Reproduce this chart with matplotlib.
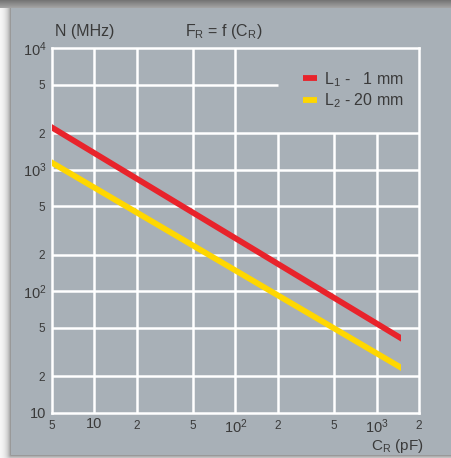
import matplotlib
matplotlib.use('Agg')
import matplotlib.pyplot as plt
import numpy as np
from matplotlib.lines import Line2D
from matplotlib.patches import Rectangle

# Data (capacitance in pF, frequency in MHz)
cap_pf = [5, 1500]
freq_l1 = [2220, 41]
freq_l2 = [1140, 23.5]
series_labels = ['L$_\\mathregular{1}$ -   1 mm', 'L$_\\mathregular{2}$ - 20 mm']
series_colors = ['#e8232b', '#ffd700']

x_major = [10, 100, 1000]
x_major_labels = ['10', '$\\mathregular{10^2}$', '$\\mathregular{10^3}$']
x_minor = [5, 20, 50, 200, 500, 2000]
y_major = [10, 100, 1000, 10000]
y_major_labels = ['10', '$\\mathregular{10^2}$', '$\\mathregular{10^3}$', '$\\mathregular{10^4}$']
y_minor = [20, 50, 200, 500, 2000, 5000]
x_grid = [10, 20, 50, 100, 200, 500, 1000]
y_grid = [20, 50, 100, 200, 500, 1000, 2000, 5000]

# legend area keeps the grid out of the upper right corner
legend_x0, legend_y0 = 200, 2000

BG = '#a8b0b7'
TXT = '#3a3a3a'

plt.rcParams['font.family'] = ['Liberation Sans', 'DejaVu Sans']
plt.rcParams['mathtext.fontset'] = 'custom'
plt.rcParams['mathtext.rm'] = 'Liberation Sans'

W, H = 452, 458
fig = plt.figure(figsize=(W / 100, H / 100), dpi=100, facecolor='white')

# background panel with a soft shadow
bg_ax = fig.add_axes([0, 0, 1, 1])
bg_ax.set_axis_off()
xx, yy = np.meshgrid(np.arange(W) + 0.5, np.arange(H) + 0.5)
px0, py0, py1 = 11, 8, 455
dx = np.clip(px0 - xx, 0, None)
dy = np.clip(yy - py1, 0, None)
dist = np.hypot(dx, dy)
shade = 1 - 0.45 * np.exp(-dist / 4.0)
tshade = 0.45 + 0.2 * (yy / py0)
shade = np.where(yy < py0, tshade, shade)
img = np.repeat(shade[..., None], 3, axis=2)
panel = (xx >= px0) & (yy >= py0) & (yy <= py1)
img[panel] = np.array(matplotlib.colors.to_rgb(BG))
bg_ax.imshow(img, extent=(0, W, H, 0), aspect='auto', interpolation='bilinear')
bg_ax.set_xlim(0, W)
bg_ax.set_ylim(H, 0)

ax = fig.add_axes([52 / W, (H - 413) / H, 367 / W, 365 / H])
ax.set_facecolor(BG)
ax.set_xscale('log')
ax.set_yscale('log')

for xv in x_grid:
    top_y = legend_y0 if xv >= legend_x0 else 10000
    ax.plot([xv, xv], [10, top_y], color='white', lw=1.8, zorder=1, solid_capstyle='butt')
for yv in y_grid:
    right_x = legend_x0 if yv > legend_y0 else 2000
    ax.plot([5, right_x], [yv, yv], color='white', lw=1.8, zorder=1, solid_capstyle='butt')

for s in ax.spines.values():
    s.set_color('white')
    s.set_linewidth(1.8)

clip = Rectangle((cap_pf[0], 1), cap_pf[-1] - cap_pf[0], 1e5, transform=ax.transData)
for yvals, col in zip([freq_l1, freq_l2], series_colors):
    ln, = ax.plot(cap_pf, yvals, color=col, lw=4.2, solid_capstyle='projecting', zorder=3)
    ln.set_clip_path(clip)

ax.set_xlim(5, 2000)
ax.set_ylim(10, 10000)
ax.xaxis.set_major_locator(matplotlib.ticker.FixedLocator(x_major))
ax.xaxis.set_major_formatter(matplotlib.ticker.FixedFormatter(x_major_labels))
ax.xaxis.set_minor_locator(matplotlib.ticker.FixedLocator(x_minor))
ax.xaxis.set_minor_formatter(matplotlib.ticker.FixedFormatter([str(v)[0] for v in x_minor]))
ax.yaxis.set_major_locator(matplotlib.ticker.FixedLocator(y_major))
ax.yaxis.set_major_formatter(matplotlib.ticker.FixedFormatter(y_major_labels))
ax.yaxis.set_minor_locator(matplotlib.ticker.FixedLocator(y_minor))
ax.yaxis.set_minor_formatter(matplotlib.ticker.FixedFormatter([str(v)[0] for v in y_minor]))
ax.tick_params(which='major', length=0, pad=4, labelsize=10.5, labelcolor=TXT)
ax.tick_params(axis='x', which='major', pad=3)
ax.tick_params(which='minor', length=0, pad=5, labelsize=8.5, labelcolor=TXT)

handles = [Line2D([], [], color=c, lw=4.2, solid_capstyle='butt') for c in series_colors]
ax.legend(handles, series_labels, loc='upper left', bbox_to_anchor=(0.685, 0.94),
          frameon=False, fontsize=11.5, handlelength=0.85, handletextpad=0.45,
          labelspacing=0.2, borderpad=0, borderaxespad=0, labelcolor=TXT)

fig.text(55 / W, (H - 36) / H, 'N (MHz)', fontsize=11.5, color=TXT, va='baseline')
fig.text(224 / W, (H - 36) / H, 'F$_\\mathregular{R}$ = f (C$_\\mathregular{R}$)',
         fontsize=11.5, color=TXT, va='baseline', ha='center')
fig.text(424 / W, (H - 450) / H, 'C$_\\mathregular{R}$ (pF)', fontsize=11, color=TXT,
         va='baseline', ha='right')

fig.savefig('out.png', dpi=100, facecolor='white')
